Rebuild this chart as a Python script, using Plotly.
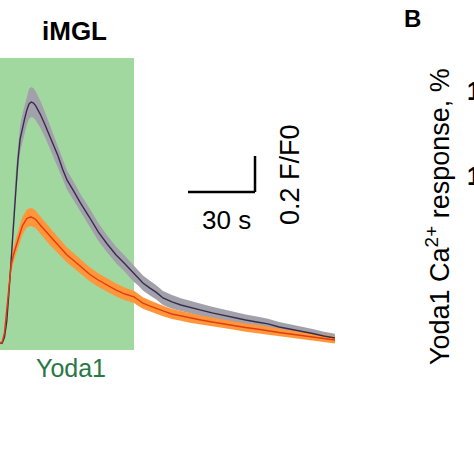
import plotly.graph_objects as go

# ---- data ----
time_s = [0, 1, 2, 3, 4, 5, 6, 7, 8, 9, 10, 11, 12, 13, 14, 15, 16, 18, 20, 22, 24, 26, 28, 30,
          33, 36, 40, 44, 48, 52, 56, 60, 62, 64, 67, 70, 73, 77, 81, 85, 90, 95, 100, 105,
          110, 115, 120, 125, 130, 135, 140, 145, 150]

gray_mean = [1.000, 1.000, 1.033, 1.117, 1.278, 1.478, 1.672, 1.872, 2.011, 2.133, 2.194, 2.244,
             2.294, 2.328, 2.339, 2.333, 2.317, 2.272, 2.217, 2.156, 2.100, 2.039, 1.967, 1.906,
             1.844, 1.778, 1.700, 1.617, 1.550, 1.489, 1.439, 1.383, 1.361, 1.333, 1.306, 1.281,
             1.250, 1.228, 1.211, 1.200, 1.183, 1.167, 1.153, 1.139, 1.128, 1.117, 1.106, 1.089,
             1.078, 1.067, 1.053, 1.039, 1.028]
gray_sem = [0.005, 0.008, 0.015, 0.025, 0.035, 0.045, 0.055, 0.062, 0.068, 0.072, 0.076, 0.079,
            0.082, 0.083, 0.083, 0.082, 0.080, 0.075, 0.070, 0.066, 0.062, 0.058, 0.055, 0.053,
            0.052, 0.050, 0.050, 0.049, 0.047, 0.046, 0.045, 0.044, 0.043, 0.042, 0.041, 0.040,
            0.039, 0.038, 0.037, 0.036, 0.035, 0.034, 0.033, 0.032, 0.031, 0.030, 0.029, 0.028,
            0.027, 0.026, 0.025, 0.024, 0.023]

orange_mean = [1.000, 1.006, 1.056, 1.189, 1.317, 1.433, 1.489, 1.533, 1.572, 1.611, 1.650, 1.672,
               1.692, 1.697, 1.700, 1.694, 1.686, 1.656, 1.628, 1.594, 1.569, 1.544, 1.517, 1.489,
               1.458, 1.428, 1.383, 1.350, 1.322, 1.294, 1.272, 1.256, 1.239, 1.222, 1.206, 1.194,
               1.178, 1.161, 1.150, 1.139, 1.128, 1.117, 1.106, 1.097, 1.086, 1.078, 1.067, 1.058,
               1.050, 1.042, 1.033, 1.025, 1.017]
orange_sem = [0.005, 0.008, 0.015, 0.025, 0.032, 0.038, 0.042, 0.045, 0.047, 0.049, 0.050, 0.050,
              0.050, 0.050, 0.050, 0.050, 0.049, 0.048, 0.047, 0.046, 0.045, 0.044, 0.043, 0.042,
              0.041, 0.040, 0.039, 0.038, 0.037, 0.036, 0.035, 0.034, 0.033, 0.032, 0.031, 0.030,
              0.029, 0.028, 0.027, 0.026, 0.025, 0.025, 0.024, 0.024, 0.023, 0.023, 0.022, 0.022,
              0.021, 0.021, 0.020, 0.020, 0.020]

yoda1_window = [-2, 60]      # seconds of Yoda1 application
scalebar_time = 30           # s
scalebar_ff0 = 0.2           # F/F0

FONT = "Liberation Sans, Arial, sans-serif"

fig = go.Figure()


def band(mean, sem, color):
    upper = [m + s for m, s in zip(mean, sem)]
    lower = [m - s for m, s in zip(mean, sem)]
    return go.Scatter(x=time_s + time_s[::-1], y=upper + lower[::-1], fill="toself",
                      fillcolor=color, line=dict(width=0), mode="lines",
                      hoverinfo="skip", showlegend=False)


fig.add_trace(band(gray_mean, gray_sem, "rgb(162,160,170)"))
fig.add_trace(band(orange_mean, orange_sem, "rgb(255,150,60)"))
fig.add_trace(go.Scatter(x=time_s, y=gray_mean, mode="lines",
                         line=dict(color="rgb(55,45,75)", width=1.4), showlegend=False))
fig.add_trace(go.Scatter(x=time_s, y=orange_mean, mode="lines",
                         line=dict(color="rgb(225,60,15)", width=1.4), showlegend=False))

# Yoda1 application window
fig.add_shape(type="rect", xref="x", yref="y", x0=yoda1_window[0], x1=yoda1_window[1],
              y0=0.961, y1=2.583, fillcolor="rgb(160,216,160)", line=dict(width=0), layer="below")

# scale bar
sb_x1 = 114.2
sb_y0 = 1.839
fig.add_shape(type="line", xref="x", yref="y", x0=sb_x1 - scalebar_time, x1=sb_x1,
              y0=sb_y0, y1=sb_y0, line=dict(color="black", width=2.5))
fig.add_shape(type="line", xref="x", yref="y", x0=sb_x1, x1=sb_x1,
              y0=sb_y0, y1=sb_y0 + scalebar_ff0, line=dict(color="black", width=2.5))

W = 474.0


def ann(text, px, py, size, color="black", bold=False, angle=0, xanchor="center"):
    if bold:
        text = "<b>" + text + "</b>"
    fig.add_annotation(text=text, xref="paper", yref="paper", x=px / W, y=1 - py / W,
                       xanchor=xanchor, yanchor="middle", showarrow=False, textangle=angle,
                       font=dict(family=FONT, size=size, color=color))


ann("iMGL", 74, 31, 26, bold=True)
ann("Yoda1", 71, 368, 25, color="rgb(40,120,70)")
ann(f"{scalebar_time} s", 226, 220, 26)
ann(f"{scalebar_ff0} F/F0", 290, 175, 27, angle=-90)
ann("B", 412.5, 19, 24, bold=True)
ann("Yoda1 Ca<sup>2+</sup> response, %", 438, 217, 27, angle=-90)
ann("1", 465, 91, 25, bold=True, xanchor="left")
ann("1", 465, 176, 25, bold=True, xanchor="left")

fig.update_layout(
    width=474, height=474,
    margin=dict(l=0, r=0, t=0, b=0),
    paper_bgcolor="white", plot_bgcolor="white",
    xaxis=dict(range=[0, 474 / 2.233], visible=False, fixedrange=True),
    yaxis=dict(range=[1 - 131 / 180, 1 + 343 / 180], visible=False, fixedrange=True),
    showlegend=False,
)

fig.write_html("out.html", config={"displayModeBar": False},
               post_script="document.body.style.margin='0';document.body.style.overflow='hidden';")
